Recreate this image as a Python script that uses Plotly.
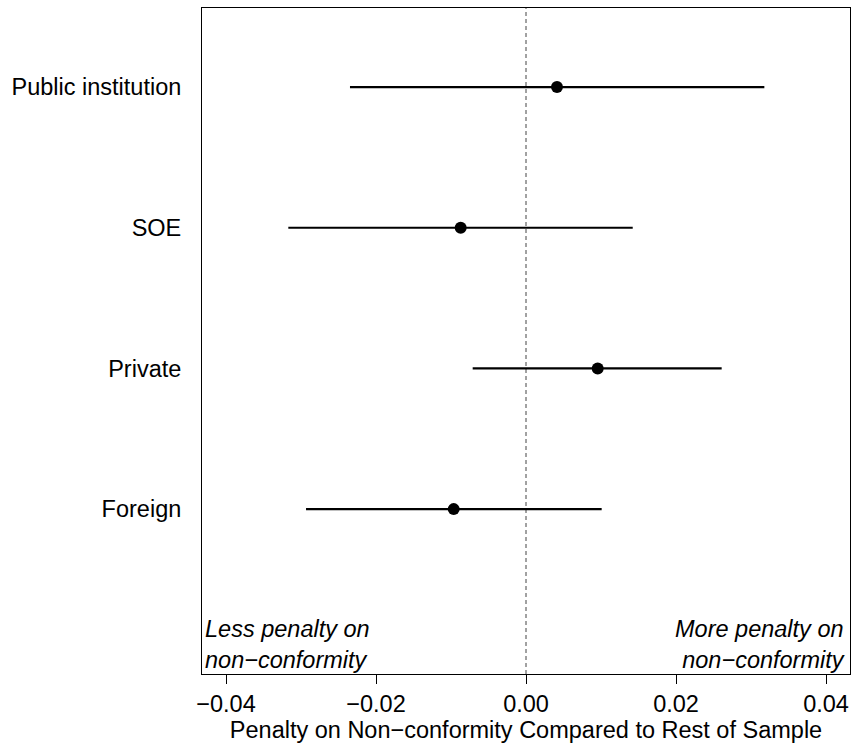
import plotly.graph_objects as go

categories = ["Public institution", "SOE", "Private", "Foreign"]
ypos = [4, 3, 2, 1]
estimates = [0.00413, -0.00871, 0.00956, -0.00964]
ci_low = [-0.02347, -0.03169, -0.00711, -0.02933]
ci_high = [0.03178, 0.01423, 0.02609, 0.01009]
xticks = [-0.04, -0.02, 0.0, 0.02, 0.04]

err_plus = [h - e for h, e in zip(ci_high, estimates)]
err_minus = [e - l for e, l in zip(estimates, ci_low)]

FONT = "Liberation Sans, Arial, Helvetica, sans-serif"
FS = 23.5

fig = go.Figure()
fig.add_vline(x=0, line=dict(color="#444444", width=1, dash="4px,3px"), layer="below")
fig.add_trace(go.Scatter(
    x=estimates, y=ypos, mode="markers",
    marker=dict(color="black", size=12),
    error_x=dict(type="data", symmetric=False, array=err_plus, arrayminus=err_minus,
                 color="black", thickness=2.2, width=0),
    showlegend=False, hoverinfo="skip",
))

fig.add_annotation(x=-0.0432, y=0, xref="x", yref="y", xanchor="left", yanchor="middle",
                   align="left", showarrow=False, xshift=1, yshift=5,
                   text="<i>Less penalty on<br>non\u2212conformity</i>",
                   font=dict(family=FONT, size=FS, color="black"))
fig.add_annotation(x=0.0432, y=0, xref="x", yref="y", xanchor="right", yanchor="middle",
                   align="right", showarrow=False, xshift=-3, yshift=5,
                   text="<i>More penalty on<br>non\u2212conformity</i>",
                   font=dict(family=FONT, size=FS, color="black"))

fig.update_layout(
    width=852, height=744,
    margin=dict(l=202, r=2, t=8, b=70, autoexpand=False),
    paper_bgcolor="white", plot_bgcolor="white",
    font=dict(family=FONT, size=FS, color="black"),
    xaxis=dict(
        range=[-0.0432, 0.0432], tickvals=xticks, tickformat=".2f",
        ticks="outside", ticklen=9, tickwidth=1, tickcolor="black",
        showline=True, linecolor="black", linewidth=1, mirror=True,
        showgrid=False, zeroline=False,
        title=dict(text="Penalty on Non\u2212conformity Compared to Rest of Sample",
                   standoff=4, font=dict(size=FS)),
        tickfont=dict(size=FS),
    ),
    yaxis=dict(
        range=[-0.172, 4.562], tickvals=ypos, ticktext=categories,
        ticks="", showline=True, linecolor="black", linewidth=1, mirror=True,
        showgrid=False, zeroline=False, ticklabelstandoff=15,
        tickfont=dict(size=FS),
    ),
)

fig.write_html(
    "out.html",
    config={"displayModeBar": False},
    post_script="document.body.style.margin='0';document.body.style.overflow='hidden';",
)
